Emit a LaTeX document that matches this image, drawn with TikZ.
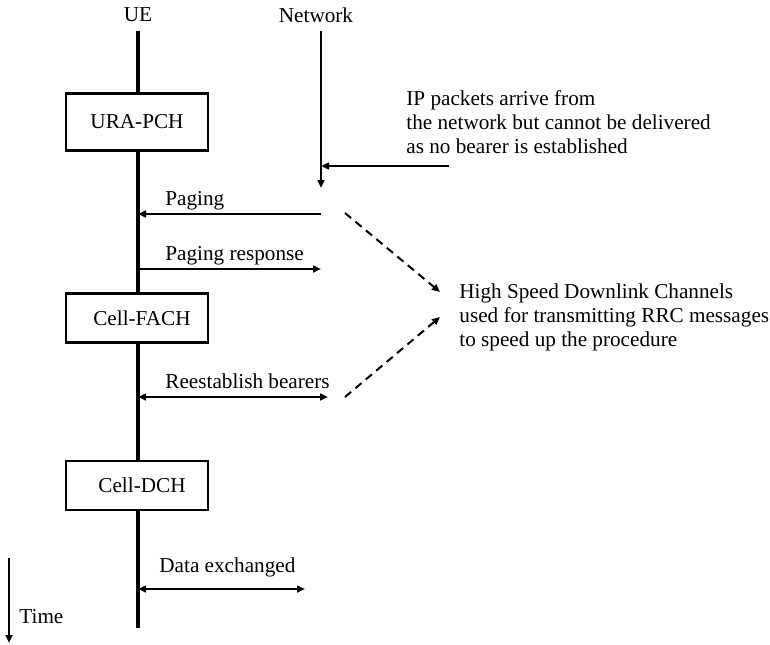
\documentclass[tikz,border=0pt]{standalone}
\usepackage{fontspec}
\setmainfont{Liberation Serif}
\usetikzlibrary{arrows.meta,positioning}

\begin{document}
\begin{tikzpicture}[x=0.5pt, y=-0.5pt,
      txt/.style={font=\fontsize{10.6}{12}\selectfont, inner sep=0pt},
      state/.style={draw, line width=1.3pt, fill=white, font=\fontsize{10.6}{12}\selectfont,
        minimum width=71pt, minimum height=24.5pt, inner sep=0pt},
      life/.style={line width=1.6pt},
      msg/.style={-{Triangle[length=4pt,width=3.4pt]}, line width=1pt},
      both/.style={{Triangle[length=4pt,width=3.4pt]}-{Triangle[length=4pt,width=3.4pt]}, line width=1pt},
      hint/.style={-{Triangle[length=4pt,width=3.4pt]}, line width=1pt, dash pattern=on 4pt off 2.8pt}]
    \useasboundingbox (0,0) rectangle (770,644);

    % lifelines
    \node[txt] (ue) at (138,15) {UE};
    \node[txt] (nw) at (316,15) {Network};
    \coordinate (uetop) at (138,31);
    \coordinate (uebot) at (138,628);
    \coordinate (nwtop) at (321,31);
    \coordinate (nwbot) at (321,188);
    \draw[life] (uetop) -- (uebot);
    \draw[msg, line width=1.1pt] (nwtop) -- (nwbot);

    % states
    \node[state, minimum height=28.5pt] (ura) at (137,122) {URA-PCH};
    \node[state] (fach) at (137,318) {\hspace*{5pt}Cell-FACH};
    \node[state] (dch) at (137,485.5) {\hspace*{5pt}Cell-DCH};

    % incoming packets
    \node[txt, anchor=west, align=left] (ip) at (406,122)
      {IP packets arrive from\\the network but cannot be delivered\\as no bearer is established};
    \coordinate (ipin) at (449,166);
    \draw[msg] (ipin) -- (nwtop |- ipin);

    % messages
    \coordinate (pg) at (321,214);
    \coordinate (pr) at (321,269);
    \coordinate (rb) at (328,397);
    \coordinate (dx) at (305,589);
    \draw[msg] (pg) -- (uetop |- pg);
    \draw[msg] (uetop |- pr) -- (pr);
    \draw[both] (uetop |- rb) -- (rb);
    \draw[both] (uetop |- dx) -- (dx);
    \node[txt, anchor=base west] (pgl) at (165,205) {Paging};
    \node[txt, anchor=base west] (prl) at (165,260) {Paging response};
    \node[txt, anchor=base west] (rbl) at (165,388) {Reestablish bearers};
    \node[txt, anchor=base west] (dxl) at (159,572) {Data exchanged};

    % high speed channels
    \node[txt, anchor=west, align=left] (hs) at (459,317)
      {High Speed Downlink Channels\\used for transmitting RRC messages\\to speed up the procedure};
    \coordinate (hs1) at (345,213);
    \coordinate (hs2) at (345,397);
    \coordinate (hsa) at (440,292);
    \coordinate (hsb) at (440,317);
    \draw[hint] (hs1) -- (hsa);
    \draw[hint] (hs2) -- (hsb);

    % time
    \coordinate (t0) at (9,558);
    \coordinate (t1) at (9,643);
    \draw[msg] (t0) -- (t1);
    \node[txt, anchor=west] (time) at (19,617) {Time};
  \end{tikzpicture}
\end{document}
